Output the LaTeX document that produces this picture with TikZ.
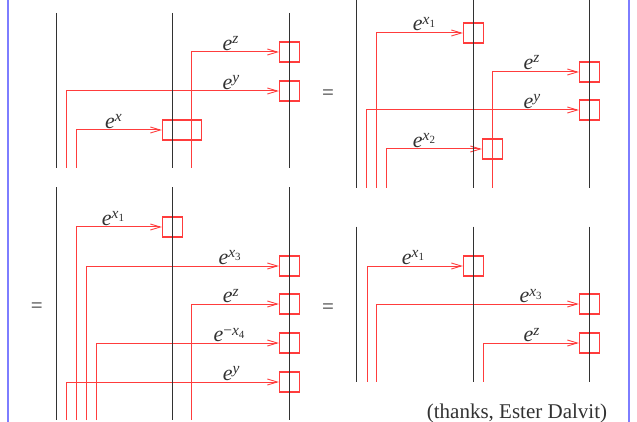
\documentclass[tikz,border=0pt]{standalone}
\usepackage{fontspec}
\setmainfont{Liberation Serif}
\usetikzlibrary{arrows.meta}
\definecolor{wire}{RGB}{255,60,60}
\definecolor{strand}{RGB}{50,50,50}
\definecolor{frameblue}{RGB}{125,125,255}
\newcommand\elab[1]{\fontsize{22}{22}\selectfont\textit{e}\raisebox{6.5pt}{\fontsize{15.5}{15.5}\selectfont #1}}
\newcommand\sub[1]{\raisebox{-3pt}{\fontsize{11}{11}\selectfont #1}}
\tikzset{
  wireline/.style={draw=wire, line width=1pt, -{Straight Barb[length=10pt,width=6pt,line width=0.9pt]}},
  strandline/.style={draw=strand, line width=1pt},
  cupbox/.style={rectangle, draw=wire, line width=1.2pt, minimum width=20pt, minimum height=20pt, inner sep=0pt},
  widebox/.style={cupbox, minimum width=39pt},
  lab/.style={anchor=base west, inner sep=0pt, text=strand},
  eqsign/.style={inner sep=0pt, text=strand, font=\fontsize{21}{21}\selectfont},
}
\begin{document}
\begin{tikzpicture}[x=1pt,y=-1pt]
\useasboundingbox (0,0) rectangle (637,422);
% frame lines
\draw[frameblue, line width=2pt] (8,0) -- (8,421.5);
\draw[frameblue, line width=2pt] (629,0) -- (629,422);

% ---------- panel 1 ----------
\node[cupbox] (p1z) at (289.5,52) {};
\node[cupbox] (p1y) at (289.5,91) {};
\node[widebox] (p1x) at (182,130) {};
\coordinate (p1zs) at (191.5,168);
\coordinate (p1ys) at (66.5,168);
\coordinate (p1xs) at (76,168);
\draw[wireline] (p1zs) |- (p1z.west);
\draw[wireline] (p1ys) |- (p1y.west);
\draw[wireline] (p1xs) |- (p1x.west);
\foreach \xx in {56.7,172.7,289.3} \draw[strandline] (\xx,13) -- (\xx,168);
\node[lab] (l1z) at (222.5,50.5) {\elab{\textit{z}}};
\node[lab] (l1y) at (222.5,89.3) {\elab{\textit{y}}};
\node[lab] (l1x) at (105,128.2) {\elab{\textit{x}}};

% ---------- panel 2 ----------
\node[eqsign] (eq1) at (328,95) {=};
\node[cupbox] (p2x1) at (473.5,33) {};
\node[cupbox] (p2z) at (589.5,72) {};
\node[cupbox] (p2y) at (589.5,110) {};
\node[cupbox] (p2x2) at (492.5,149) {};
\coordinate (p2ys) at (366.5,187.7);
\coordinate (p2x1s) at (376,187.7);
\coordinate (p2x2s) at (386.5,187.7);
\coordinate (p2zs) at (492.5,187.7);
\draw[wireline] (p2x1s) |- (p2x1.west);
\draw[wireline] (p2zs) |- (p2z.west);
\draw[wireline] (p2ys) |- (p2y.west);
\draw[wireline] (p2x2s) |- (p2x2.west);
\foreach \xx in {356.7,473.3,589.3} \draw[strandline] (\xx,0) -- (\xx,187.7);
\node[lab] (l2x1) at (412.7,31) {\elab{\textit{x}\sub{1}}};
\node[lab] (l2z) at (523.3,69.5) {\elab{\textit{z}}};
\node[lab] (l2y) at (523.3,108.5) {\elab{\textit{y}}};
\node[lab] (l2x2) at (412.7,147.5) {\elab{\textit{x}\sub{2}}};

% ---------- panel 3 ----------
\node[eqsign] (eq2) at (36.7,308) {=};
\node[cupbox] (p3x1) at (172.5,227) {};
\node[cupbox] (p3x3) at (289.5,266) {};
\node[cupbox] (p3z) at (289.5,304) {};
\node[cupbox] (p3x4) at (289.5,343) {};
\node[cupbox] (p3y) at (289.5,382) {};
\coordinate (p3ys) at (66.5,420);
\coordinate (p3x1s) at (76,420);
\coordinate (p3x3s) at (86,420);
\coordinate (p3x4s) at (96,420);
\coordinate (p3zs) at (191.5,420);
\draw[wireline] (p3x1s) |- (p3x1.west);
\draw[wireline] (p3x3s) |- (p3x3.west);
\draw[wireline] (p3zs) |- (p3z.west);
\draw[wireline] (p3x4s) |- (p3x4.west);
\draw[wireline] (p3ys) |- (p3y.west);
\foreach \xx in {56.7,172.7,289.3} \draw[strandline] (\xx,187.3) -- (\xx,420);
\node[lab] (l3x1) at (101.7,225.2) {\elab{\textit{x}\sub{1}}};
\node[lab] (l3x3) at (218.3,264.3) {\elab{\textit{x}\sub{3}}};
\node[lab] (l3z) at (222.7,302.8) {\elab{\textit{z}}};
\node[lab] (l3x4) at (213.3,341.8) {\elab{−\textit{x}\sub{4}}};
\node[lab] (l3y) at (222.7,380.2) {\elab{\textit{y}}};

% ---------- panel 4 ----------
\node[eqsign] (eq3) at (328,308.3) {=};
\node[cupbox] (p4x1) at (473.5,266) {};
\node[cupbox] (p4x3) at (589.5,304) {};
\node[cupbox] (p4z) at (589.5,343) {};
\coordinate (p4x1s) at (367.5,381.7);
\coordinate (p4x3s) at (376.5,381.7);
\coordinate (p4zs) at (483.5,381.7);
\draw[wireline] (p4x1s) |- (p4x1.west);
\draw[wireline] (p4x3s) |- (p4x3.west);
\draw[wireline] (p4zs) |- (p4z.west);
\foreach \xx in {356.7,473.3,589.3} \draw[strandline] (\xx,226.7) -- (\xx,381.7);
\node[lab] (l4x1) at (401.7,264.2) {\elab{\textit{x}\sub{1}}};
\node[lab] (l4x3) at (519.3,302.8) {\elab{\textit{x}\sub{3}}};
\node[lab] (l4z) at (523.3,341.8) {\elab{\textit{z}}};

\node[lab, font=\fontsize{21}{21}\selectfont] (thanks) at (426.7,418) {(thanks, Ester Dalvit)};
\end{tikzpicture}
\end{document}
